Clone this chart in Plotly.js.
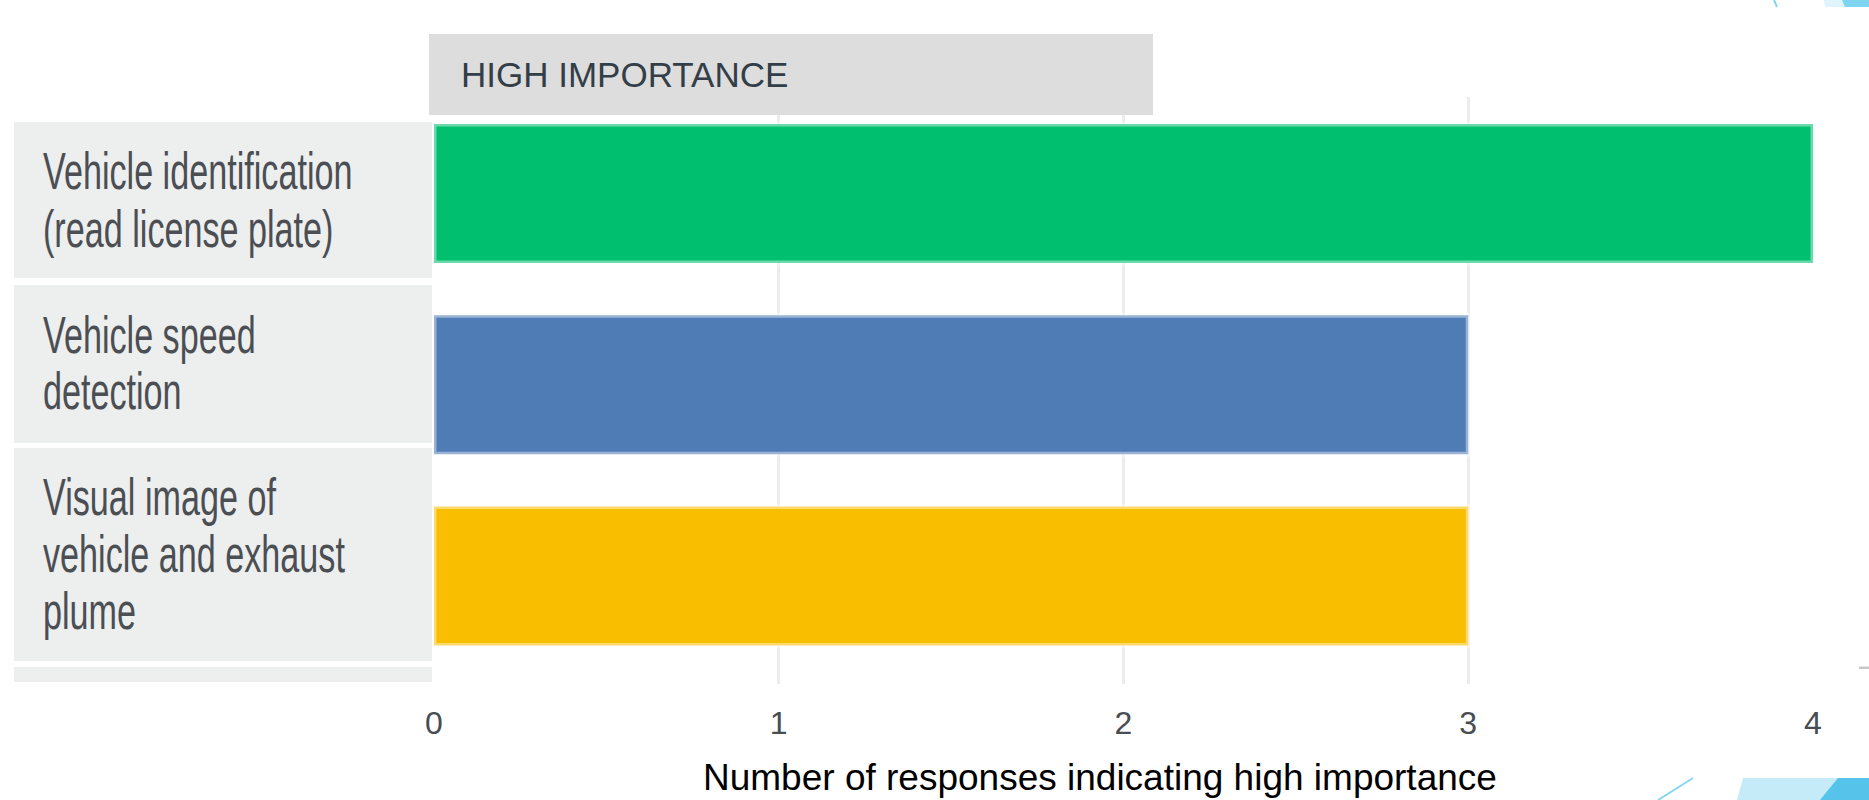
<!DOCTYPE html>
<html>
<head>
<meta charset="utf-8">
<script src="https://cdn.plot.ly/plotly-3.0.1.min.js"></script>
<style>html,body{margin:0;padding:0;background:#fff;}#chart{width:1869px;height:800px;}</style>
</head>
<body>
<div id="chart"></div>
<script>
// ---- data ----
const categories = [
  "Vehicle identification (read license plate)",
  "Vehicle speed detection",
  "Visual image of vehicle and exhaust plume"
];
const labelLines = [
  ["Vehicle identification", "(read license plate)"],
  ["Vehicle speed", "detection"],
  ["Visual image of", "vehicle and exhaust", "plume"]
];
const values = [4, 3, 3];
const barColors = ["#00bf6f", "#507cb6", "#f9be00"];
const xTickVals = [0, 1, 2, 3, 4];
const xTickText = ["0", "1", "2", "3", "4"];
const panelTitle = "HIGH IMPORTANCE";
const axisTitle = "Number of responses indicating high importance";

// ---- layout helpers (pixel -> paper) ----
const L = 434, R = 1813, T = 97, B = 684;
const fx = p => (p - L) / (R - L);
const fy = p => (B - p) / (B - T);
const path = pts => pts.map((p, i) => (i ? "L" : "M") + fx(p[0]).toFixed(5) + "," + fy(p[1]).toFixed(5)).join(" ") + " Z";

const sansFont = "Liberation Sans, Arial, sans-serif";
const boxes = [[122, 278], [285, 443], [448, 661], [667, 682]];

const shapes = [];
boxes.forEach(b => shapes.push({
  type: "rect", xref: "paper", yref: "paper", layer: "above",
  x0: fx(14), x1: fx(432), y0: fy(b[1]), y1: fy(b[0]),
  fillcolor: "#edeeee", line: {width: 0}
}));
shapes.push({type: "rect", xref: "paper", yref: "paper", layer: "above",
  x0: fx(429), x1: fx(1153), y0: fy(115), y1: fy(34), fillcolor: "#dddddd", line: {width: 0}});
shapes.push({type: "rect", xref: "paper", yref: "paper", layer: "above",
  x0: fx(1859), x1: fx(1869), y0: fy(669), y1: fy(666.5), fillcolor: "#c8c8c8", line: {width: 0}});
// slide decorations
shapes.push({type: "path", xref: "paper", yref: "paper", layer: "above",
  path: path([[1743, 778], [1869, 778], [1869, 800], [1737, 800]]), fillcolor: "#c5ebf8", line: {width: 0}});
shapes.push({type: "path", xref: "paper", yref: "paper", layer: "above",
  path: path([[1838, 778], [1869, 778], [1869, 800], [1820, 800]]), fillcolor: "#55c3ea", line: {width: 0}});
shapes.push({type: "line", xref: "paper", yref: "paper", layer: "above",
  x0: fx(1658), y0: fy(800), x1: fx(1693), y1: fy(778), line: {color: "#86d6f1", width: 2}});
shapes.push({type: "path", xref: "paper", yref: "paper", layer: "above",
  path: path([[1824, 0], [1869, 0], [1869, 7], [1825, 7]]), fillcolor: "#e0f4fb", line: {width: 0}});
shapes.push({type: "path", xref: "paper", yref: "paper", layer: "above",
  path: path([[1842, 0], [1869, 0], [1869, 7], [1845, 7]]), fillcolor: "#7fd4f0", line: {width: 0}});
shapes.push({type: "line", xref: "paper", yref: "paper", layer: "above",
  x0: fx(1774), y0: fy(0), x1: fx(1777), y1: fy(7), line: {color: "#86d6f1", width: 2}});

// category label lines (one annotation per line, baselines in px)
const labelSize = 51;
const baselines = [[189, 247], [353, 409], [515, 572, 629]];
const annotations = [];
labelLines.forEach((lines, i) => lines.forEach((line, j) => annotations.push({
  xref: "paper", yref: "paper", x: fx(41), y: fy(baselines[i][j] - 0.3465 * labelSize),
  xanchor: "left", yanchor: "middle", align: "left", showarrow: false,
  text: line,
  font: {family: sansFont, size: labelSize, color: "#4b4f54"}
})));
const nLabelAnn = annotations.length;
annotations.push({
  xref: "paper", yref: "paper", x: fx(459), y: fy(74.5), xanchor: "left", yanchor: "middle",
  showarrow: false, text: panelTitle,
  font: {family: sansFont, size: 35, color: "#333e48"}
});
annotations.push({
  xref: "paper", yref: "paper", x: fx(1100), y: fy(778), xanchor: "center", yanchor: "middle",
  showarrow: false, text: axisTitle,
  font: {family: sansFont, size: 37, color: "#000000"}
});

// condensed look of the category labels (text stays real text)
const css = [];
for (let k = 0; k < nLabelAnn; k++) css.push('g.annotation[data-index="' + k + '"] text.annotation-text');
const st = document.createElement("style");
st.textContent = css.join(",") + "{transform-box:fill-box;transform-origin:0 50%;transform:scaleX(0.67);}";
document.head.appendChild(st);

const trace = {
  type: "bar", orientation: "h",
  y: categories, x: values, width: 0.727,
  marker: {color: barColors, line: {color: "rgba(255,255,255,0.42)", width: 5}},
  hoverinfo: "none"
};

const layout = {
  width: 1869, height: 800,
  margin: {l: L, r: 1869 - R, t: T, b: 800 - B, pad: 0},
  paper_bgcolor: "#ffffff", plot_bgcolor: "#ffffff",
  showlegend: false,
  xaxis: {
    range: [0, 4], tickvals: xTickVals, ticktext: xTickText,
    showgrid: true, gridcolor: "#ececec", gridwidth: 3,
    zeroline: false, showline: false, ticks: "",
    ticklabelstandoff: 17,
    tickfont: {family: sansFont, size: 32, color: "#474d53"},
    fixedrange: true
  },
  yaxis: {
    type: "category", categoryorder: "array", categoryarray: categories,
    range: [2.565, -0.505], showticklabels: false, showgrid: false,
    zeroline: false, showline: false, ticks: "", fixedrange: true
  },
  shapes: shapes,
  annotations: annotations
};

Plotly.newPlot("chart", [trace], layout, {displayModeBar: false, staticPlot: true});
</script>
</body>
</html>
